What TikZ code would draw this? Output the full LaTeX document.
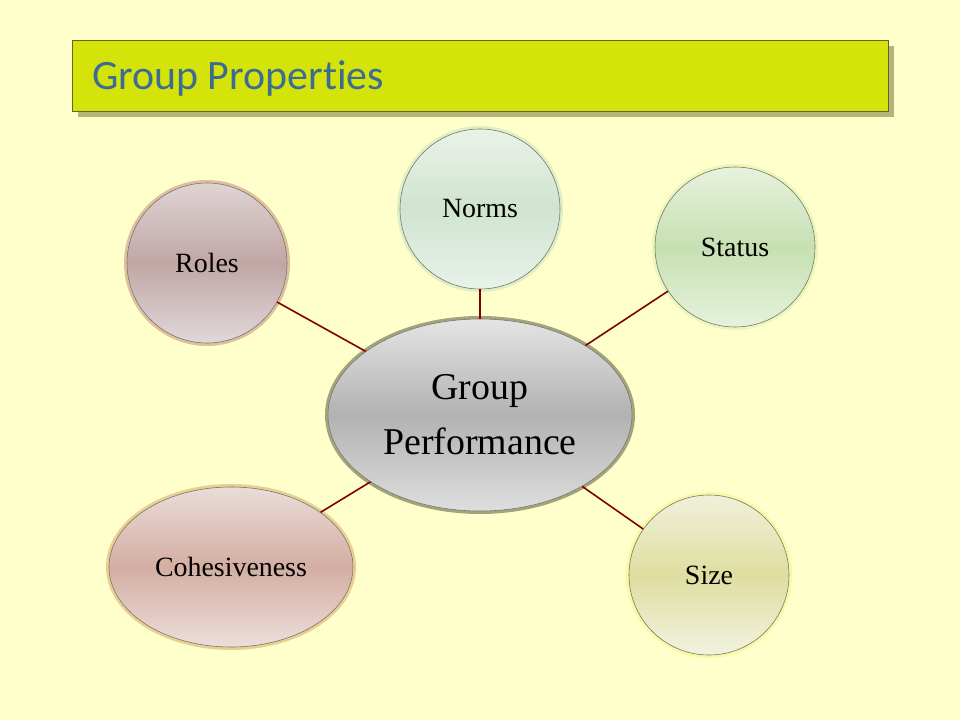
\documentclass[tikz,border=0pt]{standalone}
\usepackage{fontspec}
\setmainfont{Liberation Serif}
\newfontfamily\headingfont[Ligatures=NoCommon]{Carlito}
\usetikzlibrary{positioning,shapes.geometric,shadows}

\definecolor{slidebg}{RGB}{255,255,204}
\definecolor{barfill}{RGB}{212,228,10}
\definecolor{barline}{RGB}{100,100,40}
\definecolor{barshadow}{RGB}{181,181,122}
\definecolor{headingblue}{RGB}{60,108,146}
\definecolor{rimgray}{RGB}{120,120,110}
\definecolor{linkred}{RGB}{128,0,0}
% bubble tints: top, middle, bottom, glow
\definecolor{normsA}{RGB}{234,242,232}\definecolor{normsB}{RGB}{208,228,208}\definecolor{normsC}{RGB}{232,242,234}\definecolor{normsG}{RGB}{200,225,190}
\definecolor{rolesA}{RGB}{222,212,212}\definecolor{rolesB}{RGB}{194,166,166}\definecolor{rolesC}{RGB}{224,216,218}\definecolor{rolesG}{RGB}{200,140,120}
\definecolor{statusA}{RGB}{232,242,222}\definecolor{statusB}{RGB}{198,224,178}\definecolor{statusC}{RGB}{230,242,220}\definecolor{statusG}{RGB}{220,240,170}
\definecolor{cohesA}{RGB}{234,220,216}\definecolor{cohesB}{RGB}{212,174,162}\definecolor{cohesC}{RGB}{236,222,218}\definecolor{cohesG}{RGB}{215,170,100}
\definecolor{sizeA}{RGB}{240,240,218}\definecolor{sizeB}{RGB}{222,222,160}\definecolor{sizeC}{RGB}{242,242,224}\definecolor{sizeG}{RGB}{245,245,130}
\definecolor{perfA}{RGB}{228,228,228}\definecolor{perfB}{RGB}{178,178,178}\definecolor{perfC}{RGB}{222,222,222}\definecolor{perfG}{RGB}{90,90,60}

\begin{document}
\begin{tikzpicture}[x=1bp, y=-1bp,
    glow/.style={preaction={draw=#1, line width=6bp, opacity=0.55}},
    tint/.style={top color=#1A, bottom color=#1C, middle color=#1B, glow=#1G},
    bubble/.style={circle, draw=rimgray, line width=0.6bp, minimum size=160bp, inner sep=0pt, font=\fontsize{28}{32}\selectfont},
    hub/.style={ellipse, draw=rimgray, line width=0.6bp, minimum width=304bp, minimum height=192bp, inner sep=0pt, align=center, font=\fontsize{38}{55}\selectfont},
    titlebar/.style={rectangle, fill=barfill, draw=barline, line width=0.8bp, minimum width=816bp, minimum height=71bp,
        drop shadow={shadow xshift=6bp, shadow yshift=-6bp, fill=barshadow, opacity=1}},
    link/.style={draw=linkred, line width=1.6bp}]
    \fill[slidebg] (0,0) rectangle (960,720);
    \useasboundingbox (0,0) rectangle (960,720);

    \node[titlebar] (title) at (480,75.5) {};
    \node[anchor=base west, text=headingblue, font=\headingfont\fontsize{42}{48}\selectfont, inner sep=0pt] (heading) at (92,90) {Group Properties};

    % centres of the bubbles
    \coordinate (c-perf) at (480,415);
    \coordinate (c-norms) at (480,209);
    \coordinate (c-roles) at (207,263);
    \coordinate (c-status) at (735,247);
    \coordinate (c-cohes) at (231,567);
    \coordinate (c-size) at (709,575);

    \node[hub, tint=perf] (perf) at (c-perf) {Group\\Performance};
    \node[bubble, tint=norms] (norms) at (c-norms) {Norms};
    \node[bubble, tint=roles] (roles) at (c-roles) {Roles};
    \node[bubble, tint=status] (status) at (c-status) {Status};
    \node[hub, tint=cohes, minimum width=244bp, minimum height=160bp, font=\fontsize{28}{32}\selectfont] (cohes) at (c-cohes) {Cohesiveness};
    \node[bubble, tint=size] (size) at (c-size) {Size};

    \draw[link] (roles) -- (perf);
    \draw[link] (norms) -- (perf);
    \draw[link] (status) -- (perf);
    \draw[link] (cohes) -- (perf);
    \draw[link] (size) -- (perf);
\end{tikzpicture}
\end{document}
